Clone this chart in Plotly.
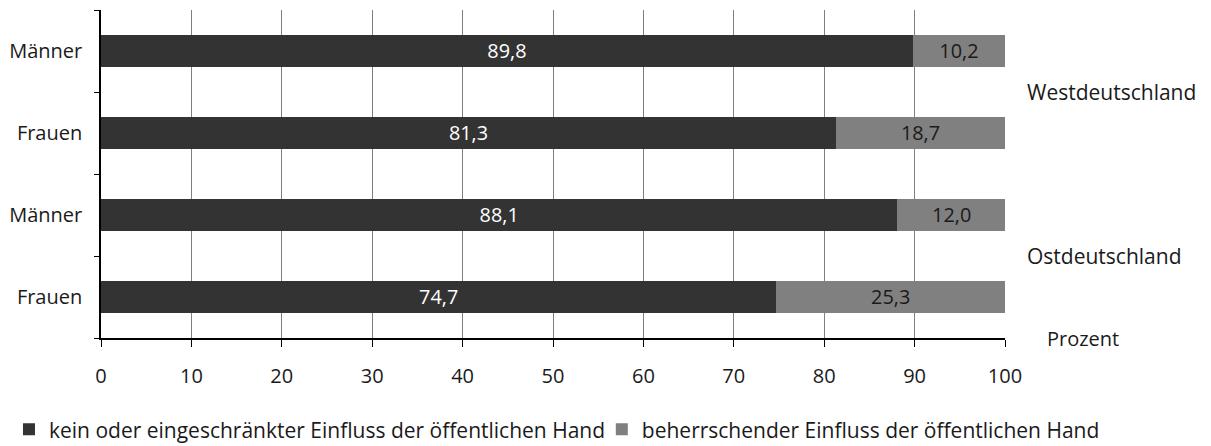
import plotly.graph_objects as go

categories = ["Männer", "Frauen", "Männer", "Frauen"]
regions = ["Westdeutschland", "Ostdeutschland"]
kein = [89.8, 81.3, 88.1, 74.7]
beherrschend = [10.2, 18.7, 12.0, 25.3]
series_names = ["kein oder eingeschränkter Einfluss der öffentlichen Hand",
                "beherrschender Einfluss der öffentlichen Hand"]
x_ticks = [0, 10, 20, 30, 40, 50, 60, 70, 80, 90, 100]
unit_label = "Prozent"

ypos = [3, 2, 1, 0]
fmt = lambda v: f"{v:.1f}".replace(".", ",")
FONT = "Open Sans, sans-serif"
TXT = "#1a1a1a"

fig = go.Figure()
fig.add_trace(go.Bar(
    y=ypos, x=kein, orientation="h", name=series_names[0], legend="legend",
    marker=dict(color="#333333", line=dict(width=0)), width=0.4,
    text=[fmt(v) for v in kein], textposition="inside", insidetextanchor="middle",
    textfont=dict(color="white", size=20, family=FONT),
))
fig.add_trace(go.Bar(
    y=ypos, x=beherrschend, orientation="h", name=series_names[1], legend="legend2",
    marker=dict(color="#808080", line=dict(width=0)), width=0.4,
    text=[fmt(v) for v in beherrschend], textposition="inside", insidetextanchor="middle",
    textfont=dict(color=TXT, size=20, family=FONT),
))
# invisible trace to activate the boundary-tick axis
fig.add_trace(go.Scatter(x=[None], y=[None], yaxis="y2", showlegend=False, hoverinfo="skip"))

fig.update_layout(
    barmode="stack",
    width=1203, height=438,
    margin=dict(l=93, r=206, t=2, b=108, autoexpand=False),
    paper_bgcolor="white", plot_bgcolor="white",
    font=dict(family=FONT, size=20, color=TXT),
    xaxis=dict(range=[0, 100], tickvals=x_ticks, showgrid=True, gridcolor="#7f7f7f", gridwidth=1,
               showline=True, linecolor="black", linewidth=1.5, ticks="outside", ticklen=7,
               tickcolor="black", zeroline=False, tickfont=dict(size=20), automargin=False,
               ticklabelstandoff=12),
    yaxis=dict(range=[-0.5, 3.5], tickvals=ypos, ticktext=categories, ticks="",
               showline=True, linecolor="black", linewidth=1.5, showgrid=False, zeroline=False,
               ticklabelstandoff=13, automargin=False, tickfont=dict(size=20)),
    yaxis2=dict(range=[-0.5, 3.5], overlaying="y", side="left", tickvals=[-0.5, 0.5, 1.5, 2.5, 3.5],
                showticklabels=False, ticks="outside", ticklen=6, tickcolor="black",
                showgrid=False, zeroline=False, showline=False, automargin=False),
    legend=dict(orientation="h", x=-0.1018, xanchor="left", y=-0.2795, yanchor="middle",
                font=dict(size=21), itemwidth=30, bgcolor="rgba(0,0,0,0)"),
    legend2=dict(orientation="h", x=0.554, xanchor="left", y=-0.2795, yanchor="middle",
                 font=dict(size=21), itemwidth=30, bgcolor="rgba(0,0,0,0)"),
    showlegend=True,
)
fig.add_annotation(text=regions[0], x=1.022, xref="paper", y=2.5, yref="y", xanchor="left",
                   showarrow=False, font=dict(size=21))
fig.add_annotation(text=regions[1], x=1.022, xref="paper", y=0.5, yref="y", xanchor="left",
                   showarrow=False, font=dict(size=21))
fig.add_annotation(text=unit_label, x=1.044, xref="paper", y=0, yref="paper", xanchor="left",
                   yanchor="middle", showarrow=False, font=dict(size=20))

fig.write_html("out.html")
